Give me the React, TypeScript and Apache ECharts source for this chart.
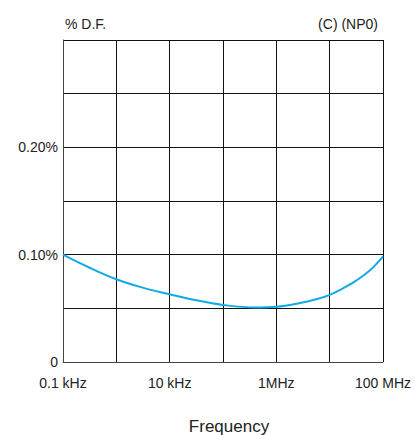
import React, { useEffect, useRef } from "react";
import * as echarts from "echarts";

const frequencies = [100, 316, 1000, 3000, 10000, 30000, 100000, 400000, 1000000, 2800000, 5600000, 10000000, 18000000, 32000000, 57000000, 100000000];
const dfValues = [0.1, 0.0878, 0.0771, 0.0695, 0.0631, 0.0577, 0.0532, 0.0508, 0.0515, 0.0550, 0.0584, 0.0626, 0.0688, 0.0761, 0.0854, 0.0985];
const xTickLabels: Record<number, string> = { 100: "0.1 kHz", 10000: "10 kHz", 1000000: "1MHz", 100000000: "100 MHz" };
const yTickLabels: Record<string, string> = { "0": "0", "0.1": "0.10%", "0.2": "0.20%" };

export default function App() {
  const ref = useRef<HTMLDivElement>(null);
  useEffect(() => {
    if (!ref.current) return;
    const chart = echarts.init(ref.current, undefined, { renderer: "svg" });
    const font = "Liberation Sans, Arial, sans-serif";
    chart.setOption({
      animation: false,
      grid: { left: 63, right: 32, top: 40, bottom: 73 },
      title: [
        { text: "% D.F.", left: 60, top: 12, textStyle: { fontSize: 14, fontWeight: "normal", color: "#222", fontFamily: font } },
        { text: "(C) (NP0)", right: 32, top: 12, textStyle: { fontSize: 14, fontWeight: "normal", color: "#222", fontFamily: font } },
        { text: "Frequency", left: 224, top: 413, textAlign: "center", textStyle: { fontSize: 17, fontWeight: "normal", color: "#222", fontFamily: font } },
      ],
      xAxis: {
        type: "log",
        logBase: 10,
        min: 100,
        max: 100000000,
        axisLine: { show: true, lineStyle: { color: "#444", width: 1 } },
        axisTick: { show: false },
        splitLine: { show: true, lineStyle: { color: "#111", width: 1 } },
        axisLabel: {
          margin: 14,
          fontSize: 14,
          color: "#222",
          fontFamily: font,
          formatter: (v: number) => {
            const k = Math.round(v);
            return xTickLabels[k] ?? "";
          },
        },
      },
      yAxis: {
        type: "value",
        min: 0,
        max: 0.3,
        interval: 0.05,
        axisLine: { show: true, lineStyle: { color: "#444", width: 1 } },
        axisTick: { show: false },
        splitLine: { show: true, lineStyle: { color: "#111", width: 1 } },
        axisLabel: {
          margin: 5,
          fontSize: 14,
          color: "#222",
          fontFamily: font,
          formatter: (v: number) => yTickLabels[String(Math.round(v * 100) / 100)] ?? "",
        },
      },
      series: [
        {
          type: "line",
          data: frequencies.map((f, i) => [f, dfValues[i]]),
          smooth: 0.4,
          showSymbol: false,
          lineStyle: { color: "#12a9e8", width: 2 },
        },
      ],
    });
    return () => chart.dispose();
  }, []);
  return <div ref={ref} style={{ width: 415, height: 435, position: "absolute", left: 0, top: 0 }} />;
}
